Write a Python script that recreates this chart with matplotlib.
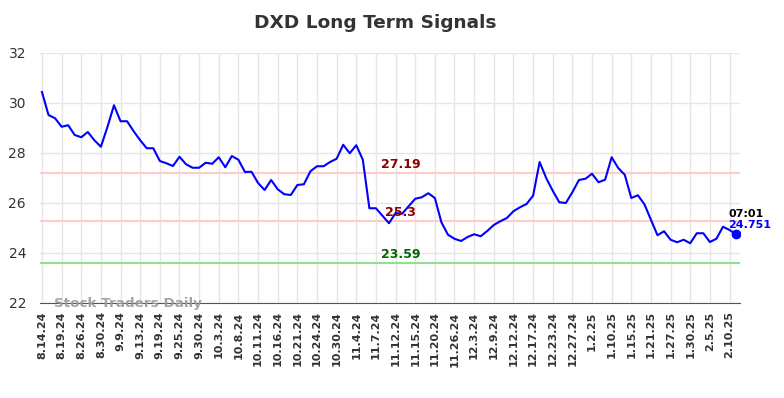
import matplotlib
matplotlib.use("Agg")
import matplotlib.pyplot as plt

# closing prices, one per point
prices = [30.44, 29.52, 29.39, 29.05, 29.11, 28.72, 28.63, 28.84, 28.51, 28.25,
          29.04, 29.91, 29.27, 29.27, 28.87, 28.51, 28.19, 28.19, 27.68, 27.59,
          27.48, 27.85, 27.55, 27.41, 27.41, 27.61, 27.57, 27.83, 27.43, 27.88,
          27.73, 27.24, 27.25, 26.80, 26.52, 26.92, 26.55, 26.35, 26.32, 26.72,
          26.75, 27.27, 27.47, 27.47, 27.64, 27.77, 28.33, 27.99, 28.31, 27.73,
          25.79, 25.79, 25.49, 25.19, 25.60, 25.57, 25.87, 26.17, 26.23, 26.39,
          26.20, 25.23, 24.73, 24.57, 24.48, 24.64, 24.75, 24.67, 24.88, 25.12,
          25.27, 25.40, 25.67, 25.83, 25.96, 26.29, 27.64, 27.00, 26.49, 26.03,
          26.00, 26.43, 26.92, 26.97, 27.17, 26.83, 26.93, 27.83, 27.40, 27.13,
          26.20, 26.31, 25.95, 25.33, 24.71, 24.87, 24.53, 24.43, 24.53, 24.39,
          24.79, 24.79, 24.44, 24.57, 25.05, 24.92, 24.751]

tick_labels = ["8.14.24", "8.19.24", "8.26.24", "8.30.24", "9.9.24", "9.13.24",
               "9.19.24", "9.25.24", "9.30.24", "10.3.24", "10.8.24", "10.11.24",
               "10.16.24", "10.21.24", "10.24.24", "10.30.24", "11.4.24", "11.7.24",
               "11.12.24", "11.15.24", "11.20.24", "11.26.24", "12.3.24", "12.9.24",
               "12.12.24", "12.17.24", "12.23.24", "12.27.24", "1.2.25", "1.10.25",
               "1.15.25", "1.21.25", "1.27.25", "1.30.25", "2.5.25", "2.10.25"]

resistance_hi = 27.19
resistance_lo = 25.3
support = 23.59
last_time = "07:01"

x = list(range(len(prices)))
tick_pos = [i * 3 for i in range(len(tick_labels))]

fig = plt.figure(figsize=(7.84, 3.98), dpi=100)
ax = fig.add_axes([40 / 784, 1 - 303 / 398, 700 / 784, 250 / 398])

ax.axhline(resistance_hi, color="#ffcccc", lw=1.5, zorder=1)
ax.axhline(resistance_lo, color="#ffcccc", lw=1.5, zorder=1)
ax.axhline(support, color="#90e090", lw=1.5, zorder=1)

ax.plot(x, prices, color="#0000ff", lw=1.5, zorder=3)
ax.plot(x[-1], prices[-1], "o", color="#0000ff", ms=6, zorder=4)

mid = 54.8
ax.text(mid, resistance_hi + 0.08, f"{resistance_hi:g}", color="#8b0000",
        fontsize=9, fontweight="bold", ha="center", va="bottom")
ax.text(mid, resistance_lo + 0.08, f"{resistance_lo:g}", color="#8b0000",
        fontsize=9, fontweight="bold", ha="center", va="bottom")
ax.text(mid, support + 0.08, f"{support:g}", color="#006400",
        fontsize=9, fontweight="bold", ha="center", va="bottom")

ax.text(x[-1] - 1.2, prices[-1] + 0.6, last_time, color="black",
        fontsize=8, fontweight="bold", ha="left", va="bottom")
ax.text(x[-1] - 1.2, prices[-1] + 0.15, f"{prices[-1]:.3f}", color="#0000ff",
        fontsize=8, fontweight="bold", ha="left", va="bottom")

# watermark
ax.text(1.8, 22.0, "Stock Traders Daily", color="#999999", fontsize=9.7,
        fontweight="bold", ha="left", va="center", alpha=0.9)

ax.set_xlim(-0.3, 106.6)
ax.set_ylim(22, 32)
ax.set_yticks([22, 24, 26, 28, 30, 32])
ax.set_xticks(tick_pos)
ax.set_xticklabels(tick_labels, rotation=90, fontsize=8, fontweight="bold")
ax.tick_params(axis="both", length=0, colors="#333333")
ax.tick_params(axis="y", labelsize=10, pad=10)
ax.tick_params(axis="x", pad=6)
ax.grid(True, color="#e6e6e6", lw=1)
ax.set_axisbelow(True)

for s in ["top", "right", "left"]:
    ax.spines[s].set_visible(False)
ax.spines["bottom"].set_color("#555555")

fig.suptitle("DXD Long Term Signals", x=375 / 784, y=0.965, fontsize=13.3,
             fontweight="bold", color="#333333")

fig.savefig("out.png", dpi=100)
